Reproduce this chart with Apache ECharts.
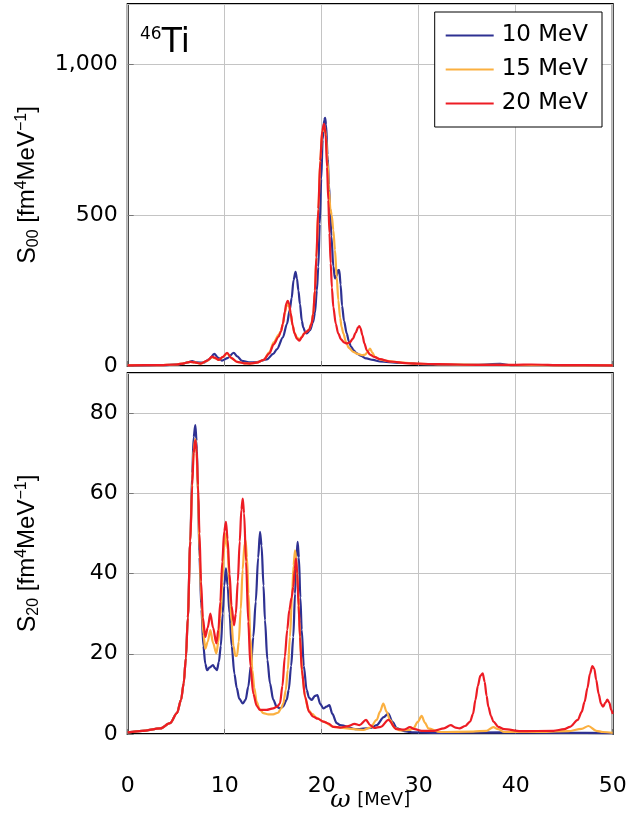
<!DOCTYPE html>
<html>
<head>
<meta charset="utf-8">
<script src="https://cdn.jsdelivr.net/npm/echarts@6/dist/echarts.min.js"></script>
<style>
html,body{margin:0;padding:0;background:#fff;}
#c{width:627px;height:816px;}
</style>
</head>
<body>
<div id="c"></div>
<script>
// ---- data (omega [MeV], strength) ----
var seriesNames = ['10 MeV', '15 MeV', '20 MeV'];
var xTicks = [0, 10, 20, 30, 40, 50];
var s00Ticks = [0, 500, 1000];
var s20Ticks = [0, 20, 40, 60, 80];

var s00_10 = [[0,1],[2,2],[4,3],[5.5,6],[6.2,12],[6.63,16],[7.1,12],[7.8,11],[8.4,22],[8.93,40],[9.3,28],[9.72,18],[10.3,26],[10.93,44],[11.3,32],[11.78,17],[12.5,12],[13.3,13],[14.36,22],[15,40],[15.4,56],[16,95],[16.42,140],[16.7,185],[16.9,225],[17.1,285],[17.3,312],[17.45,290],[17.6,250],[17.76,205],[17.95,150],[18.1,128],[18.3,112],[18.45,108],[18.8,119],[19.1,145],[19.3,175],[19.5,250],[19.65,329],[19.8,470],[19.95,620],[20.1,750],[20.25,815],[20.35,823],[20.45,800],[20.6,700],[20.75,600],[20.86,530],[21.0,430],[21.2,330],[21.37,290],[21.55,300],[21.7,318],[21.81,318],[21.95,270],[22.1,200],[22.3,150],[22.58,108],[22.8,82],[23.0,65],[23.3,52],[23.6,42],[24.0,34],[24.6,25],[25.3,20],[26,15],[28,10],[29,10],[30,6],[33,4],[36,4],[38.4,7],[39.5,3],[42,3],[45,2],[50,1]];

var s00_15 = [[0,2],[3,3],[5,5],[5.8,9],[6.45,14],[6.9,12],[7.5,8],[8.2,17],[8.69,29],[9.0,26],[9.38,20],[9.8,29],[10.24,42],[10.7,26],[11.27,14],[12.0,9],[12.6,8],[13.3,11],[14,20],[14.6,45],[15.05,78],[15.56,103],[15.8,116],[16.0,140],[16.2,175],[16.35,198],[16.5,205],[16.65,196],[16.8,172],[17.0,135],[17.2,110],[17.45,94],[17.7,88],[17.95,97],[18.2,108],[18.45,114],[18.7,121],[18.95,142],[19.13,175],[19.3,250],[19.45,360],[19.65,520],[19.85,680],[20.05,775],[20.3,792],[20.45,760],[20.6,680],[20.75,580],[20.9,520],[21.03,500],[21.2,450],[21.37,384],[21.55,295],[21.71,218],[21.9,160],[22.05,130],[22.23,108],[22.5,80],[22.8,60],[23.26,47],[23.7,40],[24.2,36],[24.5,38],[24.75,48],[24.98,58],[25.2,45],[25.5,30],[26.0,22],[26.7,17],[28,12],[30,7],[33,5],[36,4],[40,3],[45,2],[50,2]];

var s00_20 = [[0,2],[3,3],[5,5],[5.8,9],[6.45,14],[6.9,12],[7.5,8],[8.2,18],[8.69,31],[9.0,27],[9.38,20],[9.8,30],[10.24,44],[10.7,26],[11.27,14],[12.0,9],[12.6,8],[13.3,11],[14,20],[14.6,42],[15.05,72],[15.56,97],[15.8,115],[16.0,140],[16.2,180],[16.35,207],[16.5,216],[16.65,205],[16.8,175],[17.0,135],[17.2,108],[17.45,90],[17.7,84],[17.95,95],[18.2,108],[18.45,114],[18.7,120],[18.95,140],[19.13,173],[19.3,250],[19.45,360],[19.65,520],[19.85,680],[20.05,780],[20.24,803],[20.4,770],[20.55,660],[20.68,550],[20.8,440],[20.93,340],[21.05,260],[21.2,195],[21.45,140],[21.7,108],[22.0,88],[22.3,78],[22.58,75],[22.9,78],[23.2,90],[23.5,110],[23.75,128],[23.88,132],[24.0,126],[24.2,102],[24.4,75],[24.65,52],[24.98,38],[25.4,30],[26,23],[27,15],[29,9],[32,6],[36,4],[40,4],[41.6,5],[45,3],[50,2]];

var s20_10 = [[0,0.4],[1.5,0.8],[3.36,1.4],[4.36,2.7],[5.08,5.2],[5.5,8.5],[5.77,12.6],[6.0,19],[6.2,29],[6.45,48],[6.65,65],[6.8,74],[6.97,77],[7.1,73],[7.25,60],[7.4,44],[7.6,31],[7.8,22],[8.0,17.5],[8.18,15.9],[8.45,16.6],[8.79,17.2],[9.0,16.4],[9.2,15.9],[9.4,18],[9.6,22],[9.8,30],[9.95,37],[10.13,41.3],[10.3,37],[10.5,30],[10.72,22],[11.0,15],[11.24,11.5],[11.5,8.8],[11.86,7.6],[12.15,8.5],[12.43,11.8],[12.7,17],[12.95,24.2],[13.2,33],[13.45,44],[13.64,50.4],[13.8,47],[14.0,37],[14.15,28.4],[14.4,18.5],[14.67,12.6],[15.0,8.6],[15.36,6.8],[15.7,6.4],[16.0,6.8],[16.39,8.5],[16.6,11],[16.85,17],[17.07,24.2],[17.25,35],[17.4,44],[17.52,47.9],[17.65,44],[17.8,34],[17.94,26],[18.15,17],[18.45,11],[18.7,9],[18.97,8.5],[19.3,9.5],[19.55,9.7],[19.85,7.5],[20.17,6.4],[20.5,6.8],[20.79,7.2],[21.1,5],[21.55,2.7],[21.9,2.2],[23.6,1.2],[25.0,1.5],[25.67,2.2],[26.4,4.2],[26.87,5.1],[27.3,3],[27.73,1.5],[28.5,0.7],[29.5,0.4],[32,0.3],[38.8,0.4],[45,0.3],[50,0.2]];

var s20_15 = [[0,0.4],[1.5,0.8],[3.36,1.4],[4.36,2.7],[5.08,5.2],[5.5,8.5],[5.77,12.6],[6.0,19],[6.2,29],[6.45,48],[6.65,63],[6.8,71],[6.97,73.5],[7.1,70],[7.25,60],[7.4,46],[7.6,33],[7.8,25],[8.0,21.3],[8.25,23],[8.52,25.9],[8.8,22.7],[9.14,20.1],[9.35,23],[9.55,29],[9.75,38],[9.95,46.5],[10.13,50],[10.3,46],[10.5,37],[10.7,28],[10.9,22],[11.1,19.5],[11.27,19.5],[11.45,23],[11.65,31],[11.85,41],[12.05,47.5],[12.15,48.3],[12.3,44],[12.45,35],[12.65,24],[12.85,16],[13.05,11.5],[13.3,8],[13.6,6.2],[13.98,5.2],[14.5,4.9],[15.0,4.9],[15.5,5.3],[15.8,6.3],[16.04,7.6],[16.3,11],[16.5,16],[16.73,24.2],[16.95,35],[17.1,42],[17.25,45.8],[17.4,43],[17.55,36],[17.7,28],[17.85,20],[18.0,14.5],[18.3,9],[18.62,6],[19.0,5],[19.5,4],[20.17,3.1],[21.2,1.8],[21.9,1.6],[23.3,1.2],[24.3,1.0],[25.0,1.6],[25.67,3.5],[26.0,5.5],[26.35,7.6],[26.7,5.5],[27.04,3.5],[27.5,1.6],[28.1,0.9],[29.0,1.0],[29.45,1.4],[29.9,3],[30.3,4.5],[30.65,2.8],[31.0,1.4],[32.2,0.5],[35.6,0.6],[37.0,0.8],[37.7,1.7],[38.2,1.2],[38.8,0.5],[42,0.5],[45.4,0.7],[46.8,1.3],[47.5,2.0],[48.3,0.8],[49,0.5],[50,0.3]];

var s20_20 = [[0,0.4],[1.5,0.8],[3.36,1.4],[4.36,2.7],[5.08,5.2],[5.5,8.5],[5.77,12.6],[6.0,19],[6.2,29],[6.45,48],[6.65,62],[6.8,70],[6.97,73.2],[7.1,71],[7.25,62],[7.4,50],[7.56,38],[7.75,29],[8.0,24.2],[8.25,26.5],[8.52,30],[8.8,26.5],[9.14,22.6],[9.35,26],[9.55,33],[9.75,43],[9.95,50.5],[10.13,52.9],[10.3,48.5],[10.5,40],[10.7,32],[10.96,27.1],[11.15,30],[11.35,38],[11.55,48],[11.72,56],[11.86,58.7],[12.0,55],[12.2,43],[12.43,28],[12.65,17],[12.95,10],[13.3,7],[13.64,6],[14.3,6],[15.0,6.4],[15.4,6.8],[15.7,7.6],[15.95,12],[16.2,19.3],[16.45,26],[16.66,30.9],[16.9,34],[17.07,36.7],[17.22,41],[17.35,43.7],[17.48,40],[17.62,32],[17.76,24.2],[17.95,16],[18.28,9.3],[18.7,5.5],[19.13,4.3],[19.6,3.8],[20.17,3.1],[20.7,2.6],[21.2,1.8],[21.9,1.6],[22.6,1.9],[23.4,2.5],[23.9,2.2],[24.57,3.5],[25.0,2.2],[25.4,1.5],[26.1,1.8],[26.87,3.5],[27.7,1.2],[28.5,1.1],[29.1,1.7],[29.6,1.2],[30.3,0.8],[31.6,0.8],[32.6,1.4],[33.3,2.2],[33.8,1.6],[34.2,1.4],[34.8,2],[35.3,3.1],[35.6,5],[35.85,8.5],[36.1,12],[36.35,14.5],[36.6,15.1],[36.8,13],[37.0,9.5],[37.18,6.8],[37.45,4.5],[37.7,3.1],[38.2,1.8],[38.8,1.2],[40.5,0.7],[43.9,0.8],[45.0,1.2],[45.6,1.8],[46.4,3.5],[46.8,5.5],[47.1,8],[47.4,11.5],[47.65,15],[47.9,16.9],[48.1,16.3],[48.3,13.5],[48.55,10],[48.8,7.5],[49.0,6.8],[49.25,7.8],[49.45,8.6],[49.65,7.8],[49.85,6],[50,5]];

// ---- chart ----
var colors = ['#2e3192', '#fbb040', '#ed1c24'];
var FONT = 'DejaVu Sans';
var NAMEFONT = 'Liberation Sans';

function yName(sub) {
  return '{s|S}{sub|' + sub + '}{t| [fm}{sup|4}{t|MeV}{sup|\u22121}{t|]}';
}
var yNameStyle = {
  color: '#000',
  fontFamily: NAMEFONT,
  fontSize: 24,
  rich: {
    s: {fontFamily: NAMEFONT, fontSize: 25, lineHeight: 28, verticalAlign: 'middle'},
    t: {fontFamily: NAMEFONT, fontSize: 24, lineHeight: 28, verticalAlign: 'middle'},
    sub: {fontFamily: NAMEFONT, fontSize: 16, lineHeight: 16, verticalAlign: 'bottom'},
    sup: {fontFamily: NAMEFONT, fontSize: 16, lineHeight: 16, verticalAlign: 'top'}
  }
};

function xAxis(idx, showLabels) {
  return {
    type: 'value', gridIndex: idx, min: 0, max: 50, interval: 10,
    axisLine: {show: false},
    axisTick: {show: true, inside: true, length: 5, lineStyle: {color: '#777'}},
    splitLine: {show: true, lineStyle: {color: '#c4c4c4', width: 1}},
    axisLabel: {
      show: showLabels, color: '#000', fontFamily: FONT, fontSize: 22, margin: 41,
      formatter: function (v) { return xTicks.indexOf(v) >= 0 ? String(v) : ''; }
    },
    name: showLabels ? '{w|\u03c9}  {t|[MeV]}' : '',
    nameLocation: 'middle', nameGap: 54, nameMoveOverlap: false,
    nameTextStyle: {
      color: '#000',
      rich: {
        w: {fontFamily: 'DejaVu Serif', fontStyle: 'italic', fontSize: 25, verticalAlign: 'middle'},
        t: {fontFamily: FONT, fontSize: 18, verticalAlign: 'middle'}
      }
    }
  };
}
function yAxis(idx, max, interval, ticks, name) {
  return {
    type: 'value', gridIndex: idx, min: 0, max: max, interval: interval,
    axisLine: {show: false},
    axisTick: {show: true, inside: true, length: 6, lineStyle: {color: '#777'}},
    splitLine: {show: true, lineStyle: {color: '#c4c4c4', width: 1}},
    axisLabel: {
      color: '#000', fontFamily: FONT, fontSize: 22, margin: 10, showMaxLabel: false,
      formatter: function (v) { return ticks.indexOf(v) >= 0 ? v.toLocaleString('en-US') : ''; }
    },
    name: name, nameLocation: 'middle', nameGap: 86, nameRotate: 90, nameMoveOverlap: false,
    nameTextStyle: yNameStyle
  };
}
function line(name, data, xi, yi, color) {
  return {
    type: 'line', name: name, data: data, xAxisIndex: xi, yAxisIndex: yi,
    showSymbol: false, smooth: 0.3, smoothMonotone: 'x', clip: true,
    lineStyle: {color: color, width: 2.2}, itemStyle: {color: color},
    animation: false
  };
}

var chart = echarts.init(document.getElementById('c'), null, {renderer: 'canvas'});
chart.setOption({
  animation: false,
  backgroundColor: '#fff',
  grid: [
    {left: 127.7, right: 14.3, top: 4, height: 362, show: true, borderColor: '#000', borderWidth: 2, backgroundColor: 'transparent', containLabel: false, outerBoundsMode: 'none'},
    {left: 127.7, right: 14.3, top: 373, height: 361, show: true, borderColor: '#000', borderWidth: 2, backgroundColor: 'transparent', containLabel: false, outerBoundsMode: 'none'}
  ],
  xAxis: [xAxis(0, false), xAxis(1, true)],
  yAxis: [
    yAxis(0, 1200, 500, s00Ticks, yName('00')),
    yAxis(1, 90, 20, s20Ticks, yName('20'))
  ],
  legend: {
    data: seriesNames.map(function (n, i) { return {name: n, icon: 'rect', itemStyle: {color: colors[i]}}; }),
    orient: 'vertical', right: 25, top: 12,
    itemWidth: 48, itemHeight: 2, itemGap: 11,
    padding: [12, 14, 12, 11],
    borderColor: '#000', borderWidth: 1, backgroundColor: '#fff',
    textStyle: {color: '#000', fontFamily: FONT, fontSize: 23, padding: [0, 0, 0, 3]},
    selectedMode: false
  },
  graphic: [{
    type: 'text', left: 140, top: 26, z: 100,
    style: {
      text: '{a|46}{b|Ti}',
      rich: {
        a: {fontFamily: FONT, fontSize: 17, lineHeight: 14, verticalAlign: 'top', fill: '#000'},
        b: {fontFamily: FONT, fontSize: 33, lineHeight: 34, verticalAlign: 'middle', fill: '#000'}
      }
    }
  }],
  series: [
    line(seriesNames[0], s00_10, 0, 0, colors[0]),
    line(seriesNames[1], s00_15, 0, 0, colors[1]),
    line(seriesNames[2], s00_20, 0, 0, colors[2]),
    line(seriesNames[0], s20_10, 1, 1, colors[0]),
    line(seriesNames[1], s20_15, 1, 1, colors[1]),
    line(seriesNames[2], s20_20, 1, 1, colors[2])
  ]
});
</script>
</body>
</html>
